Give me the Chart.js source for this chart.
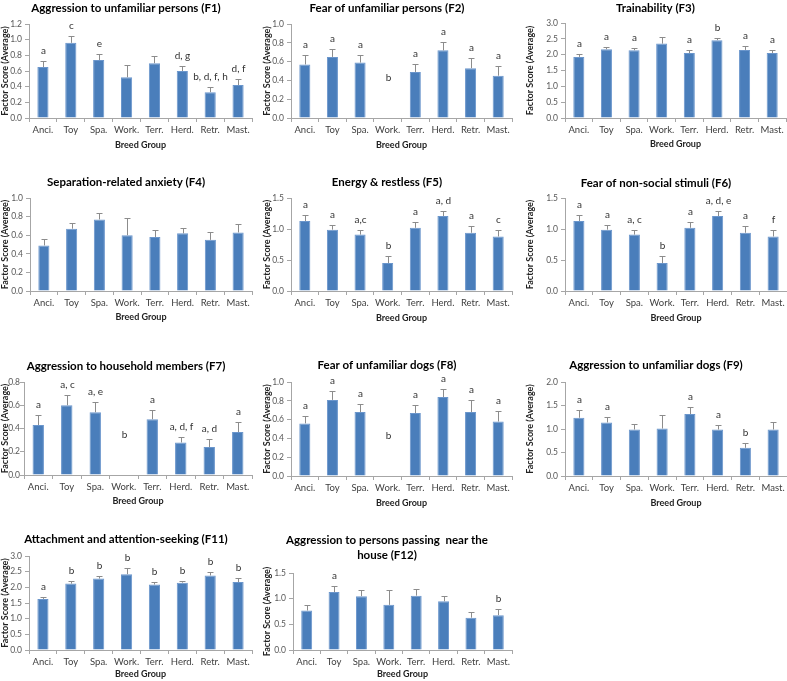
<!DOCTYPE html>
<html>
<head>
<meta charset="utf-8">
<script src="https://cdn.jsdelivr.net/npm/chart.js@4.4.1/dist/chart.umd.min.js"></script>
<style>
  html, body { margin: 0; padding: 0; background: #fff; }
  #wrap { position: relative; width: 787px; height: 681px; overflow: hidden; }
  #wrap canvas { position: absolute; }
</style>
</head>
<body>
<div id="wrap"></div>
<script>
// ---- data ----
const groups = ['Anci.', 'Toy', 'Spa.', 'Work.', 'Terr.', 'Herd.', 'Retr.', 'Mast.'];

const f1Mean = [0.65, 0.96, 0.74, 0.52, 0.70, 0.60, 0.33, 0.42];
const f1Err  = [0.08, 0.09, 0.08, 0.16, 0.09, 0.07, 0.06, 0.08];
const f1Sig  = ['a', 'c', 'e', '', '', 'd, g', 'b, d, f, h', 'd, f'];
const f1Ticks = [0, 0.2, 0.4, 0.6, 0.8, 1.0, 1.2];

const f2Mean = [0.57, 0.65, 0.59, null, 0.49, 0.72, 0.53, 0.45];
const f2Err  = [0.10, 0.08, 0.08, null, 0.08, 0.09, 0.11, 0.10];
const f2Sig  = ['a', 'a', 'a', 'b', 'a', 'a', 'a', 'a'];
const f2Ticks = [0, 0.2, 0.4, 0.6, 0.8, 1.0];

const f3Mean = [1.93, 2.17, 2.14, 2.35, 2.05, 2.46, 2.15, 2.05];
const f3Err  = [0.09, 0.07, 0.07, 0.20, 0.09, 0.07, 0.12, 0.11];
const f3Sig  = ['a', 'a', 'a', '', 'a', 'b', 'a', 'a'];
const f3Ticks = [0, 0.5, 1.0, 1.5, 2.0, 2.5, 3.0];

const f4Mean = [0.49, 0.67, 0.77, 0.60, 0.58, 0.62, 0.55, 0.63];
const f4Err  = [0.07, 0.06, 0.07, 0.18, 0.08, 0.06, 0.08, 0.09];
const f4Sig  = ['', '', '', '', '', '', '', ''];
const f4Ticks = [0, 0.2, 0.4, 0.6, 0.8, 1.0];

const f5Mean = [1.13, 0.99, 0.91, 0.45, 1.02, 1.21, 0.94, 0.88];
const f5Err  = [0.10, 0.07, 0.07, 0.11, 0.09, 0.08, 0.11, 0.10];
const f5Sig  = ['a', 'a', 'a,c', 'b', 'a', 'a, d', 'a', 'c'];
const f5Ticks = [0, 0.5, 1.0, 1.5];

const f6Mean = [1.13, 0.99, 0.91, 0.45, 1.02, 1.21, 0.94, 0.88];
const f6Err  = [0.10, 0.07, 0.07, 0.11, 0.09, 0.08, 0.11, 0.10];
const f6Sig  = ['a', 'a', 'a, c', 'b', 'a', 'a, d, e', 'a', 'f'];
const f6Ticks = [0, 0.5, 1.0, 1.5];

const f7Mean = [0.43, 0.60, 0.54, null, 0.48, 0.28, 0.24, 0.37];
const f7Err  = [0.09, 0.09, 0.09, null, 0.08, 0.05, 0.07, 0.09];
const f7Sig  = ['a', 'a, c', 'a, e', 'b', 'a', 'a, d, f', 'a, d', 'a'];
const f7Ticks = [0, 0.2, 0.4, 0.6, 0.8];

const f8Mean = [0.56, 0.81, 0.68, null, 0.67, 0.84, 0.68, 0.58];
const f8Err  = [0.08, 0.09, 0.09, null, 0.09, 0.09, 0.13, 0.11];
const f8Sig  = ['a', 'a', 'a', 'b', 'a', 'a', 'a', 'a'];
const f8Ticks = [0, 0.2, 0.4, 0.6, 0.8, 1.0];

const f9Mean = [1.24, 1.14, 0.99, 1.01, 1.32, 0.99, 0.60, 0.99];
const f9Err  = [0.16, 0.12, 0.11, 0.29, 0.15, 0.10, 0.11, 0.16];
const f9Sig  = ['a', 'a', '', '', 'a', 'a', 'b', ''];
const f9Ticks = [0, 0.5, 1.0, 1.5, 2.0];

const f11Mean = [1.63, 2.12, 2.28, 2.42, 2.09, 2.15, 2.38, 2.17];
const f11Err  = [0.07, 0.07, 0.07, 0.21, 0.08, 0.06, 0.12, 0.12];
const f11Sig  = ['a', 'b', 'b', 'b', 'b', 'b', 'b', 'b'];
const f11Ticks = [0, 0.5, 1.0, 1.5, 2.0, 2.5, 3.0];

const f12Mean = [0.77, 1.13, 1.05, 0.88, 1.06, 0.95, 0.63, 0.68];
const f12Err  = [0.11, 0.11, 0.12, 0.29, 0.13, 0.10, 0.12, 0.12];
const f12Sig  = ['', 'a', '', '', '', '', '', 'b'];
const f12Ticks = [0, 0.5, 1.0, 1.5];

// ---- panel layout: box [left, top, w, h], y-axis width, right pad, title pads ----
const panels = [
  { title: ['Aggression to unfamiliar persons (F1)'], mean: f1Mean, err: f1Err, sig: f1Sig, ticks: f1Ticks, box: [0, 0, 262, 152], plotBottom: 118, yW: 29, padR: 10, tTop: 0, tBot: 8.4 },
  { title: ['Fear of unfamiliar persons (F2)'], mean: f2Mean, err: f2Err, sig: f2Sig, ticks: f2Ticks, box: [262, 0, 262, 152], plotBottom: 118, yW: 29, padR: 12, tTop: 0, tBot: 8.4 },
  { title: ['Trainability (F3)'], mean: f3Mean, err: f3Err, sig: f3Sig, ticks: f3Ticks, box: [525, 0, 262, 151], plotBottom: 118, yW: 40, padR: 1, tTop: 0, tBot: 7.4 },
  { title: ['Separation-related anxiety (F4)'], mean: f4Mean, err: f4Err, sig: f4Sig, ticks: f4Ticks, box: [0, 170, 262, 154], plotBottom: 121, yW: 30, padR: 10, tTop: 4, tBot: 8.4 },
  { title: ['Energy & restless (F5)'], mean: f5Mean, err: f5Err, sig: f5Sig, ticks: f5Ticks, box: [262, 170, 262, 155], plotBottom: 121, yW: 29, padR: 12, tTop: 4, tBot: 8.4 },
  { title: ['Fear of non-social stimuli (F6)'], mean: f6Mean, err: f6Err, sig: f6Sig, ticks: f6Ticks, box: [525, 170, 262, 155], plotBottom: 121, yW: 40, padR: 0, tTop: 5, tBot: 7.4 },
  { title: ['Aggression to household members (F7)'], mean: f7Mean, err: f7Err, sig: f7Sig, ticks: f7Ticks, box: [0, 340, 262, 168], plotBottom: 135, yW: 24, yPad: 0, padR: 10, tTop: 18, tBot: 8.4 },
  { title: ['Fear of unfamiliar dogs (F8)'], mean: f8Mean, err: f8Err, sig: f8Sig, ticks: f8Ticks, box: [262, 340, 262, 170], plotBottom: 136, yW: 29, padR: 12, tTop: 17, tBot: 9.4 },
  { title: ['Aggression to unfamiliar dogs (F9)'], mean: f9Mean, err: f9Err, sig: f9Sig, ticks: f9Ticks, box: [525, 340, 262, 170], plotBottom: 136, yW: 40, padR: 0, tTop: 17, tBot: 9.4 },
  { title: ['Attachment and attention-seeking (F11)'], mean: f11Mean, err: f11Err, sig: f11Sig, ticks: f11Ticks, box: [0, 505, 262, 176], plotBottom: 145, yW: 29, padR: 10, tTop: 26, tBot: 9.4 },
  { title: ['Aggression to persons passing  near the', 'house (F12)'], mean: f12Mean, err: f12Err, sig: f12Sig, ticks: f12Ticks, box: [262, 505, 262, 176], plotBottom: 145, yW: 31, padR: 12, tTop: 27, tBot: 9.8 },
];

const FONT = 'Lato, "Open Sans", sans-serif';
const AXIS = '#a6a6a6';

// error bars (upper half only) + significance letters, placed with the chart's scales
const errorBars = {
  id: 'errorBars',
  afterDatasetsDraw(chart, args, opts) {
    const { ctx, scales: { x, y } } = chart;
    const mean = chart.data.datasets[0].data;
    const top = y.max;
    ctx.save();
    ctx.strokeStyle = '#8c8c8c';
    ctx.lineWidth = 1;
    ctx.fillStyle = '#333';
    ctx.font = '10px ' + FONT;
    ctx.textAlign = 'center';
    ctx.textBaseline = 'middle';
    mean.forEach((m, i) => {
      const px = Math.round(x.getPixelForValue(i)) + 0.5;
      let labelY;
      if (m == null) {
        labelY = y.getPixelForValue(top * 0.43);
      } else {
        const y0 = y.getPixelForValue(m);
        const y1 = Math.round(y.getPixelForValue(m + opts.err[i])) + 0.5;
        ctx.beginPath();
        ctx.moveTo(px, y0);
        ctx.lineTo(px, y1);
        ctx.moveTo(px - 3, y1);
        ctx.lineTo(px + 3, y1);
        ctx.stroke();
        labelY = y1 - 11;
      }
      if (opts.sig[i]) ctx.fillText(opts.sig[i], px, labelY);
    });
    ctx.restore();
  }
};

const wrap = document.getElementById('wrap');

panels.forEach(p => {
  const [l, t, w, h] = p.box;
  const cv = document.createElement('canvas');
  cv.width = w; cv.height = h;
  cv.style.left = l + 'px'; cv.style.top = t + 'px';
  cv.style.width = w + 'px'; cv.style.height = h + 'px';
  wrap.appendChild(cv);

  const xH = h - p.plotBottom;

  new Chart(cv, {
    type: 'bar',
    data: {
      labels: groups,
      datasets: [{
        data: p.mean,
        backgroundColor: '#4a7ebb',
        borderColor: '#6b96cc',
        borderWidth: 1,
        barPercentage: 0.4,
        categoryPercentage: 1.0
      }]
    },
    options: {
      responsive: false,
      animation: false,
      devicePixelRatio: 1,
      layout: { padding: { left: 0, right: p.padR, top: 0, bottom: 0 } },
      plugins: {
        legend: { display: false },
        tooltip: { enabled: false },
        title: {
          display: true,
          text: p.title,
          color: '#000',
          font: { family: FONT, size: 11.5, weight: 'bold', lineHeight: 1.36 },
          padding: { top: p.tTop, bottom: p.tBot }
        },
        errorBars: { err: p.err, sig: p.sig }
      },
      scales: {
        x: {
          afterFit: s => { s.height = xH; },
          grid: { offset: true, drawOnChartArea: false, drawTicks: true, tickLength: 4, color: AXIS },
          border: { color: AXIS },
          ticks: { color: '#404040', font: { family: FONT, size: 9.5 }, padding: 2, maxRotation: 0, autoSkip: false },
          title: {
            display: true, text: 'Breed Group', color: '#222',
            font: { family: FONT, size: 9, weight: 'bold', lineHeight: 1.2 },
            padding: { top: 0, bottom: 2 }
          }
        },
        y: {
          min: p.ticks[0],
          max: p.ticks[p.ticks.length - 1],
          afterBuildTicks: s => { s.ticks = p.ticks.map(v => ({ value: v })); },
          afterFit: s => { s.width = p.yW; },
          grid: { drawOnChartArea: false, drawTicks: true, tickLength: 4, color: AXIS },
          border: { color: AXIS },
          ticks: { color: '#595959', font: { family: FONT, size: 8.5 }, padding: p.yPad ?? 3, callback: v => Number(v).toFixed(1) },
          title: {
            display: true, text: 'Factor Score (Average)', color: '#222',
            font: { family: FONT, size: 9, weight: 'bold', lineHeight: 1.2 },
            padding: { top: 0, bottom: 0 }
          }
        }
      }
    },
    plugins: [errorBars]
  });
});
</script>
</body>
</html>
